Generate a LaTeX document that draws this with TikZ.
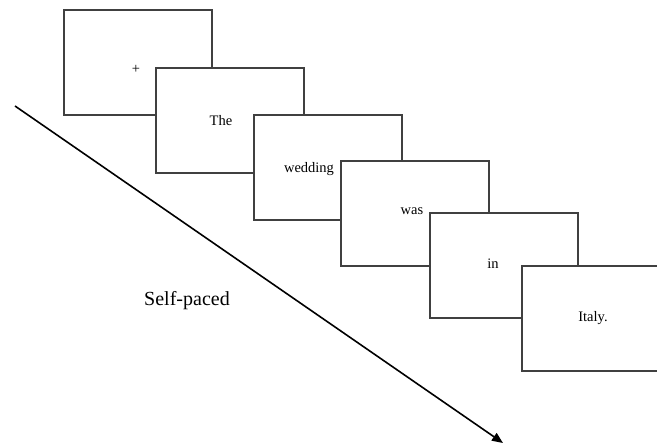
\documentclass[tikz,border=0pt]{standalone}
\usepackage{fontspec}
\setmainfont{Liberation Serif}
\usetikzlibrary{arrows.meta,shadows}
\begin{document}
\begin{tikzpicture}[x=1pt,y=-1pt,
  frame/.style={draw=black!75,line width=1.2pt,fill=white,anchor=north west,
    minimum width=148pt,minimum height=105pt,inner sep=0pt,outer sep=0pt,
    drop shadow={shadow xshift=0.8pt,shadow yshift=-1.2pt,opacity=0.25,fill=black}},
  word/.style={font=\fontsize{14.5}{16}\selectfont,inner sep=0pt},
  caption/.style={font=\fontsize{20}{24}\selectfont,inner sep=0pt},
  timeline/.style={line width=1.6pt,-{Triangle[length=11pt,width=9pt]}}]
\useasboundingbox (0,0) rectangle (657,444);
\clip (0,0) rectangle (657,444);
% stacked stimulus screens
\node[frame] (s1) at (64,10) {};
\node[word] (w1) at (136,69) {+};
\node[frame] (s2) at (156,68) {};
\node[word] (w2) at (221,121) {The};
\node[frame] (s3) at (254,115) {};
\node[word] (w3) at (309,169) {wedding};
\node[frame] (s4) at (341,161) {};
\node[word] (w4) at (412,211) {was};
\node[frame] (s5) at (430,213) {};
\node[word] (w5) at (493,264) {in};
\node[frame] (s6) at (522,266) {};
\node[word] (w6) at (593,318) {Italy.};
% time axis
\coordinate (t0) at (15,106);
\coordinate (t1) at (503,443);
\draw[timeline] (t0) -- (t1);
\node[caption] (lab) at (187,301) {Self-paced};
\end{tikzpicture}
\end{document}
